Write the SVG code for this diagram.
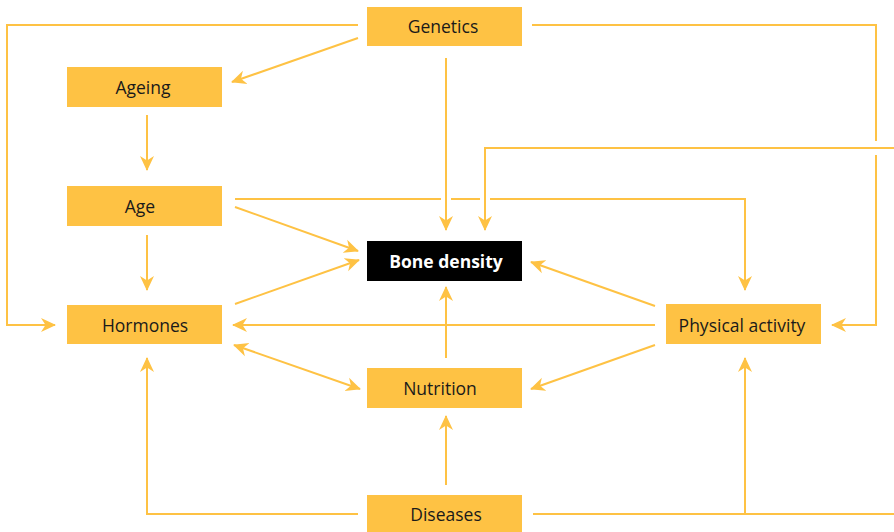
<svg xmlns="http://www.w3.org/2000/svg" width="894" height="532" viewBox="0 0 894 532">
<style>
.box{fill:#FEC244}
.lbl{font-family:"Open Sans","Noto Sans",sans-serif;font-size:17.5px;fill:#1a1a1a;text-anchor:middle;dominant-baseline:central}
.dark{fill:#000}
.wl{fill:#fff;font-weight:bold}
.c{fill:none;stroke:#FEC244;stroke-width:2}
</style>
<defs>
<marker id="ah" viewBox="0 0 15 15" refX="14" refY="7.5" markerWidth="15" markerHeight="15" markerUnits="userSpaceOnUse" orient="auto-start-reverse">
<path d="M0,0.5 L15,7.5 L0,14.5 L4.5,7.5 Z" fill="#FEC244"/>
</marker>
</defs>
<rect width="894" height="532" fill="#fff"/>
<g id="connectors">
<path class="c" d="M358,25 H7 V325 H55" marker-end="url(#ah)"/>
<path class="c" d="M358,38 L232,82" marker-end="url(#ah)"/>
<path class="c" d="M532,25 H876 V141 M876,155 V325 H832" marker-end="url(#ah)"/>
<path class="c" d="M446,58 V230" marker-end="url(#ah)"/>
<path class="c" d="M894,148 H485 V230" marker-end="url(#ah)"/>
<path class="c" d="M147,115 V170" marker-end="url(#ah)"/>
<path class="c" d="M147,235 V290" marker-end="url(#ah)"/>
<path class="c" d="M235,199 H441 M451,199 H480 M490,199 H745 V290" marker-end="url(#ah)"/>
<path class="c" d="M235,207 L358,251" marker-end="url(#ah)"/>
<path class="c" d="M235,304 L359,260" marker-end="url(#ah)"/>
<path class="c" d="M234,345 L360,389" marker-start="url(#ah)" marker-end="url(#ah)"/>
<path class="c" d="M655,325 H233" marker-end="url(#ah)"/>
<path class="c" d="M655,306 L531,262" marker-end="url(#ah)"/>
<path class="c" d="M655,345 L531,389" marker-end="url(#ah)"/>
<path class="c" d="M446,358 V287" marker-end="url(#ah)"/>
<path class="c" d="M446,485 V416" marker-end="url(#ah)"/>
<path class="c" d="M358,514 H147 V358" marker-end="url(#ah)"/>
<path class="c" d="M533,514 H894"/>
<path class="c" d="M745,514 V358" marker-end="url(#ah)"/>
</g>
<g id="genetics"><rect class="box" x="367" y="7" width="155" height="39"/><text class="lbl" x="443" y="26">Genetics</text></g>
<g id="ageing"><rect class="box" x="67" y="67" width="155" height="40"/><text class="lbl" x="143" y="87">Ageing</text></g>
<g id="age"><rect class="box" x="67" y="186" width="155" height="40"/><text class="lbl" x="140" y="206">Age</text></g>
<g id="hormones"><rect class="box" x="67" y="305" width="155" height="39"/><text class="lbl" x="145" y="325">Hormones</text></g>
<g id="bone-density"><rect class="dark" x="367" y="241" width="155" height="40"/><text class="lbl wl" x="446" y="261">Bone density</text></g>
<g id="nutrition"><rect class="box" x="367" y="368" width="155" height="40"/><text class="lbl" x="440" y="388">Nutrition</text></g>
<g id="physical-activity"><rect class="box" x="666" y="304" width="155" height="40"/><text class="lbl" x="742" y="325">Physical activity</text></g>
<g id="diseases"><rect class="box" x="367" y="495" width="155" height="37"/><text class="lbl" x="446" y="514">Diseases</text></g>
</svg>
